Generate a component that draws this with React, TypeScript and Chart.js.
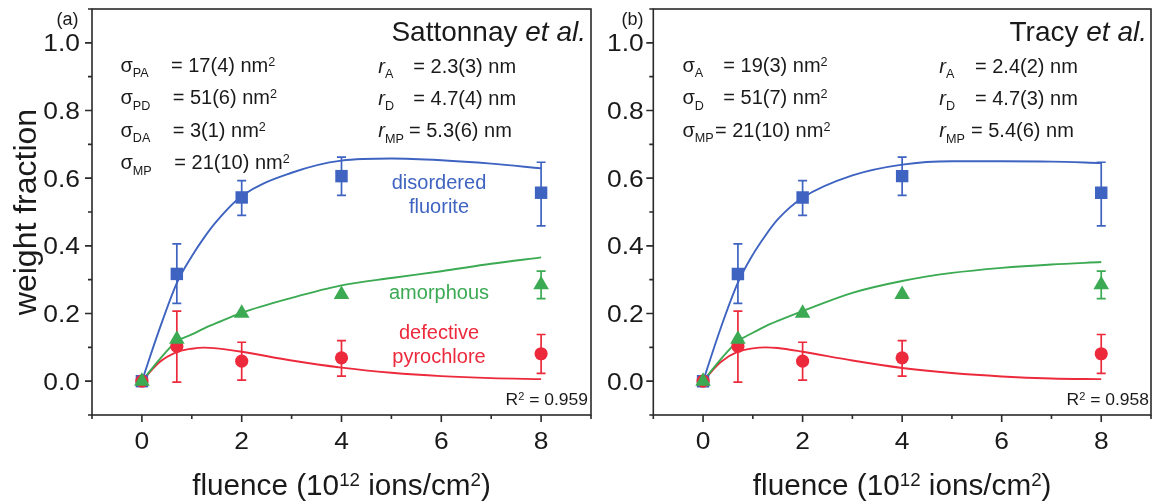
import React, { useEffect, useRef } from 'react';
import { Chart, registerables } from 'chart.js';
Chart.register(...registerables);

const FONT = '"Liberation Sans", Arial, Helvetica, sans-serif';
const BLUE = '#3E63C0';
const GREEN = '#3BAA52';
const RED = '#EC2A3C';
const INK = '#1A1A1A';

const fluence = [0, 0.7, 2, 4, 8];
const fluoriteWF = [0, 0.317, 0.543, 0.606, 0.557];
const fluoriteLow = [null, 0.23, 0.49, 0.549, 0.459];
const fluoriteHigh = [null, 0.406, 0.593, 0.662, 0.647];
const amorphousWF = [0, 0.124, 0.201, 0.256, 0.285];
const amorphousLow = [null, null, null, null, 0.244];
const amorphousHigh = [null, null, null, null, 0.325];
const pyrochloreWF = [0, 0.103, 0.059, 0.069, 0.081];
const pyrochloreLow = [null, -0.003, 0.003, 0.015, 0.023];
const pyrochloreHigh = [null, 0.207, 0.115, 0.12, 0.138];

// ---- fitted curves ----
const fitFluence = [0, 0.35, 0.7, 1, 1.25, 1.5, 2, 3, 4, 5, 6, 7, 8];
const fitFluoriteA = [0, 0.153, 0.29, 0.369, 0.425, 0.473, 0.547, 0.616, 0.652, 0.658, 0.653, 0.643, 0.629];
const fitAmorphousA = [0, 0.064, 0.118, 0.138, 0.156, 0.172, 0.202, 0.246, 0.283, 0.305, 0.325, 0.347, 0.366];
const fitPyrochloreA = [0, 0.056, 0.086, 0.096, 0.099, 0.097, 0.087, 0.061, 0.04, 0.025, 0.015, 0.009, 0.006];
const fitFluoriteB = [0, 0.155, 0.291, 0.374, 0.43, 0.478, 0.542, 0.608, 0.64, 0.65, 0.65, 0.649, 0.645];
const fitAmorphousB = [0, 0.064, 0.118, 0.143, 0.162, 0.178, 0.207, 0.261, 0.296, 0.32, 0.335, 0.345, 0.352];
const fitPyrochloreB = [0, 0.056, 0.087, 0.097, 0.1, 0.098, 0.087, 0.061, 0.039, 0.024, 0.014, 0.008, 0.006];

// ---- ticks ----
const xMajorTicks = [0, 2, 4, 6, 8];
const xTickLabels = ['0', '2', '4', '6', '8'];
const xMinorTicks = [-1, 1, 3, 5, 7, 9];
const yMajorTicks = [0, 0.2, 0.4, 0.6, 0.8, 1.0];
const yTickLabels = ['0.0', '0.2', '0.4', '0.6', '0.8', '1.0'];
const yMinorTicks = [-0.1, 0.1, 0.3, 0.5, 0.7, 0.9, 1.1];

// ---- annotation texts ----
const sigmaSubsA = ['PA', 'PD', 'DA', 'MP'];
const sigmaValsA = ['17(4)', '51(6)', '3(1)', '21(10)'];
const radiusSubs = ['A', 'D', 'MP'];
const radiusValsA = ['2.3(3)', '4.7(4)', '5.3(6)'];
const sigmaSubsB = ['A', 'D', 'MP'];
const sigmaValsB = ['19(3)', '51(7)', '21(10)'];
const radiusValsB = ['2.4(2)', '4.7(3)', '5.4(6)'];
const r2A = '0.959';
const r2B = '0.958';

type Seg = [string, string?];

function drawRich(
  ctx: CanvasRenderingContext2D,
  segs: Seg[],
  x: number,
  y: number,
  size: number,
  o: { align?: 'left' | 'right' | 'center'; sx?: number; color?: string; rot?: number } = {}
) {
  const sx = o.sx ?? 1;
  const fontFor = (k?: string) =>
    `${k === 'i' ? 'italic ' : ''}${k === 'sub' || k === 'sup' ? size * 0.63 : size}px ${FONT}`;
  ctx.save();
  ctx.translate(x, y);
  if (o.rot) ctx.rotate(o.rot);
  ctx.scale(sx, 1);
  let total = 0;
  const widths = segs.map(([t, k]) => {
    ctx.font = fontFor(k);
    const w = ctx.measureText(t).width;
    total += w;
    return w;
  });
  let cx = o.align === 'right' ? -total : o.align === 'center' ? -total / 2 : 0;
  ctx.fillStyle = o.color ?? INK;
  ctx.textAlign = 'left';
  ctx.textBaseline = 'alphabetic';
  segs.forEach(([t, k], i) => {
    ctx.font = fontFor(k);
    const dy = k === 'sub' ? size * 0.27 : k === 'sup' ? -size * 0.3 : 0;
    ctx.fillText(t, cx, dy);
    cx += widths[i];
  });
  ctx.restore();
}

const TICK = 24;
const TICK_SX = 1.1;
const ANN = 20;
const ANN_SX = 1.0;
const LAB = 20;
const LAB_SX = 1.0;

interface Panel {
  offsetX: number;
  canvasWidth: number;
  yAxisWidth: number;
  padRight: number;
  labelGap: number;
  fits: number[][];
  yTitle: boolean;
  texts: (ctx: CanvasRenderingContext2D) => void;
}

function textsA(ctx: CanvasRenderingContext2D) {
  drawRich(ctx, [['(a)']], 56.5, 25, 18);
  drawRich(ctx, [['Sattonnay '], ['et al.', 'i']], 586, 40.5, 28, { align: 'right' });
  const rows = [71.7, 104.3, 136.7, 169.3];
  const eqX = [171, 172.7, 172.7, 174.3];
  sigmaSubsA.forEach((s, i) => {
    drawRich(ctx, [['σ'], [s, 'sub']], 120.5, rows[i], ANN, { sx: ANN_SX });
    drawRich(ctx, [[`= ${sigmaValsA[i]} nm`], ['2', 'sup']], eqX[i], rows[i], ANN, { sx: ANN_SX });
  });
  const rRows = [72.7, 105, 137.3];
  const rEq = [413.3, 413.3, 409];
  radiusSubs.forEach((s, i) => {
    drawRich(ctx, [['r', 'i'], [s, 'sub']], 378.3, rRows[i], ANN, { sx: ANN_SX });
    drawRich(ctx, [[`= ${radiusValsA[i]} nm`]], rEq[i], rRows[i], ANN, { sx: ANN_SX });
  });
  drawRich(ctx, [['disordered']], 439, 188.7, LAB, { align: 'center', sx: LAB_SX, color: BLUE });
  drawRich(ctx, [['fluorite']], 439, 212.7, LAB, { align: 'center', sx: LAB_SX, color: BLUE });
  drawRich(ctx, [['amorphous']], 439, 299, LAB, { align: 'center', sx: LAB_SX, color: GREEN });
  drawRich(ctx, [['defective']], 439, 339, LAB, { align: 'center', sx: LAB_SX, color: RED });
  drawRich(ctx, [['pyrochlore']], 439, 362.7, LAB, { align: 'center', sx: LAB_SX, color: RED });
  drawRich(ctx, [['R'], ['2', 'sup'], [` = ${r2A}`]], 588, 405, 16.5, { align: 'right', sx: 1.06 });
}

function textsB(ctx: CanvasRenderingContext2D) {
  drawRich(ctx, [['(b)']], 621.5, 25, 18);
  drawRich(ctx, [['Tracy '], ['et al.', 'i']], 1147, 40.5, 28, { align: 'right' });
  const rows = [71.7, 104.3, 136.7];
  const eqX = [723.3, 723.3, 715];
  sigmaSubsB.forEach((s, i) => {
    drawRich(ctx, [['σ'], [s, 'sub']], 682.5, rows[i], ANN, { sx: ANN_SX });
    drawRich(ctx, [[`= ${sigmaValsB[i]} nm`], ['2', 'sup']], eqX[i], rows[i], ANN, { sx: ANN_SX });
  });
  const rRows = [72.7, 105, 137.3];
  const rEq = [975, 975, 971];
  radiusSubs.forEach((s, i) => {
    drawRich(ctx, [['r', 'i'], [s, 'sub']], 939.3, rRows[i], ANN, { sx: ANN_SX });
    drawRich(ctx, [[`= ${radiusValsB[i]} nm`]], rEq[i], rRows[i], ANN, { sx: ANN_SX });
  });
  drawRich(ctx, [['R'], ['2', 'sup'], [` = ${r2B}`]], 1149, 405, 16.5, { align: 'right', sx: 1.06 });
}

const panelA: Panel = {
  offsetX: 0,
  canvasWidth: 600,
  yAxisWidth: 92,
  padRight: 4.5,
  labelGap: 12,
  fits: [fitFluoriteA, fitAmorphousA, fitPyrochloreA],
  yTitle: true,
  texts: textsA,
};
const panelB: Panel = {
  offsetX: 600,
  canvasWidth: 560,
  yAxisWidth: 53.3,
  padRight: 3,
  labelGap: 9.5,
  fits: [fitFluoriteB, fitAmorphousB, fitPyrochloreB],
  yTitle: false,
  texts: textsB,
};

const pts = (xs: number[], ys: number[]) => xs.map((x, i) => ({ x, y: ys[i] }));

const errorSeries = [
  { low: amorphousLow, high: amorphousHigh, color: GREEN },
  { low: pyrochloreLow, high: pyrochloreHigh, color: RED },
  { low: fluoriteLow, high: fluoriteHigh, color: BLUE },
];

function makeConfig(p: Panel): any {
  const errorBars = {
    id: 'errorBars',
    beforeDatasetsDraw(chart: any) {
      const { ctx, scales } = chart;
      const xs = scales.x;
      const ys = scales.y;
      ctx.save();
      ctx.lineWidth = 1.7;
      errorSeries.forEach((s) => {
        ctx.strokeStyle = s.color;
        fluence.forEach((f, i) => {
          const lo = s.low[i];
          const hi = s.high[i];
          if (lo == null || hi == null) return;
          const px = xs.getPixelForValue(f);
          const y1 = ys.getPixelForValue(lo);
          const y2 = ys.getPixelForValue(hi);
          ctx.beginPath();
          ctx.moveTo(px, y1);
          ctx.lineTo(px, y2);
          ctx.moveTo(px - 4.5, y1);
          ctx.lineTo(px + 4.5, y1);
          ctx.moveTo(px - 4.5, y2);
          ctx.lineTo(px + 4.5, y2);
          ctx.stroke();
        });
      });
      ctx.restore();
    },
  };

  const decorations = {
    id: 'decorations',
    afterDraw(chart: any) {
      const { ctx, chartArea: a, scales } = chart;
      const xs = scales.x;
      const ys = scales.y;
      ctx.save();
      ctx.strokeStyle = '#2A2A2A';
      ctx.lineWidth = 1.6;
      ctx.strokeRect(a.left, a.top, a.right - a.left, a.bottom - a.top);
      ctx.beginPath();
      yMajorTicks.forEach((v) => {
        const py = ys.getPixelForValue(v);
        ctx.moveTo(a.left, py);
        ctx.lineTo(a.left - 7, py);
      });
      yMinorTicks.forEach((v) => {
        const py = ys.getPixelForValue(v);
        ctx.moveTo(a.left, py);
        ctx.lineTo(a.left - 4, py);
      });
      xMajorTicks.forEach((v) => {
        const px = xs.getPixelForValue(v);
        ctx.moveTo(px, a.bottom);
        ctx.lineTo(px, a.bottom + 7);
      });
      xMinorTicks.forEach((v) => {
        const px = xs.getPixelForValue(v);
        ctx.moveTo(px, a.bottom);
        ctx.lineTo(px, a.bottom + 4);
      });
      ctx.stroke();
      ctx.restore();

      yMajorTicks.forEach((v, i) => {
        drawRich(ctx, [[yTickLabels[i]]], a.left - p.labelGap, ys.getPixelForValue(v) + 0.358 * TICK, TICK, {
          align: 'right',
          sx: TICK_SX,
        });
      });
      xMajorTicks.forEach((v, i) => {
        drawRich(ctx, [[xTickLabels[i]]], xs.getPixelForValue(v), a.bottom + 33.5, TICK, {
          align: 'center',
          sx: TICK_SX,
        });
      });

      drawRich(
        ctx,
        [['fluence (10'], ['12', 'sup'], [' ions/cm'], ['2', 'sup'], [')']],
        (a.left + a.right) / 2,
        495,
        30,
        { align: 'center', sx: 0.99 }
      );
      if (p.yTitle) {
        drawRich(ctx, [['weight fraction']], 35.5, (a.top + a.bottom) / 2, 32, {
          align: 'center',
          rot: -Math.PI / 2,
        });
      }
      ctx.save();
      ctx.translate(-p.offsetX, 0);
      p.texts(ctx);
      ctx.restore();
    },
  };

  return {
    type: 'line',
    data: {
      datasets: [
        {
          label: 'amorphous',
          data: pts(fluence, amorphousWF),
          showLine: false,
          pointStyle: 'triangle',
          pointRadius: 9,
          pointBorderWidth: 0,
          pointBackgroundColor: GREEN,
          borderColor: GREEN,
          backgroundColor: GREEN,
        },
        {
          label: 'defective pyrochlore',
          data: pts(fluence, pyrochloreWF),
          showLine: false,
          pointStyle: 'circle',
          pointRadius: 6.6,
          pointBorderWidth: 0,
          pointBackgroundColor: RED,
          borderColor: RED,
          backgroundColor: RED,
        },
        {
          label: 'disordered fluorite',
          data: pts(fluence, fluoriteWF),
          showLine: false,
          pointStyle: 'rect',
          pointRadius: 8.8,
          pointBorderWidth: 0,
          pointBackgroundColor: BLUE,
          borderColor: BLUE,
          backgroundColor: BLUE,
        },
        {
          label: 'fit fluorite',
          data: pts(fitFluence, p.fits[0]),
          showLine: true,
          pointRadius: 0,
          borderColor: BLUE,
          borderWidth: 1.9,
          cubicInterpolationMode: 'monotone',
          fill: false,
        },
        {
          label: 'fit amorphous',
          data: pts(fitFluence, p.fits[1]),
          showLine: true,
          pointRadius: 0,
          borderColor: GREEN,
          borderWidth: 1.9,
          cubicInterpolationMode: 'monotone',
          fill: false,
        },
        {
          label: 'fit pyrochlore',
          data: pts(fitFluence, p.fits[2]),
          showLine: true,
          pointRadius: 0,
          borderColor: RED,
          borderWidth: 1.9,
          cubicInterpolationMode: 'monotone',
          fill: false,
        },
      ],
    },
    options: {
      responsive: false,
      animation: false,
      events: [],
      layout: { padding: { top: 9, right: p.padRight, left: 0, bottom: 0 } },
      plugins: { legend: { display: false }, tooltip: { enabled: false } },
      scales: {
        x: {
          type: 'linear',
          min: -1,
          max: 9,
          grid: { display: false, drawTicks: false },
          border: { display: false },
          ticks: { display: false },
          afterFit: (s: any) => {
            s.height = 89;
          },
        },
        y: {
          type: 'linear',
          min: -0.1,
          max: 1.1,
          grid: { display: false, drawTicks: false },
          border: { display: false },
          ticks: { display: false },
          afterFit: (s: any) => {
            s.width = p.yAxisWidth;
          },
        },
      },
    },
    plugins: [errorBars, decorations],
  };
}

export default function App() {
  const refA = useRef<HTMLCanvasElement>(null);
  const refB = useRef<HTMLCanvasElement>(null);
  useEffect(() => {
    const a = new Chart(refA.current as HTMLCanvasElement, makeConfig(panelA));
    const b = new Chart(refB.current as HTMLCanvasElement, makeConfig(panelB));
    return () => {
      a.destroy();
      b.destroy();
    };
  }, []);
  return (
    <div
      style={{
        position: 'fixed',
        left: 0,
        top: 0,
        width: 1155,
        height: 504,
        overflow: 'hidden',
        background: '#fff',
      }}
    >
      <canvas ref={refA} width={600} height={504} style={{ position: 'absolute', left: 0, top: 0 }} />
      <canvas ref={refB} width={560} height={504} style={{ position: 'absolute', left: 600, top: 0 }} />
    </div>
  );
}
